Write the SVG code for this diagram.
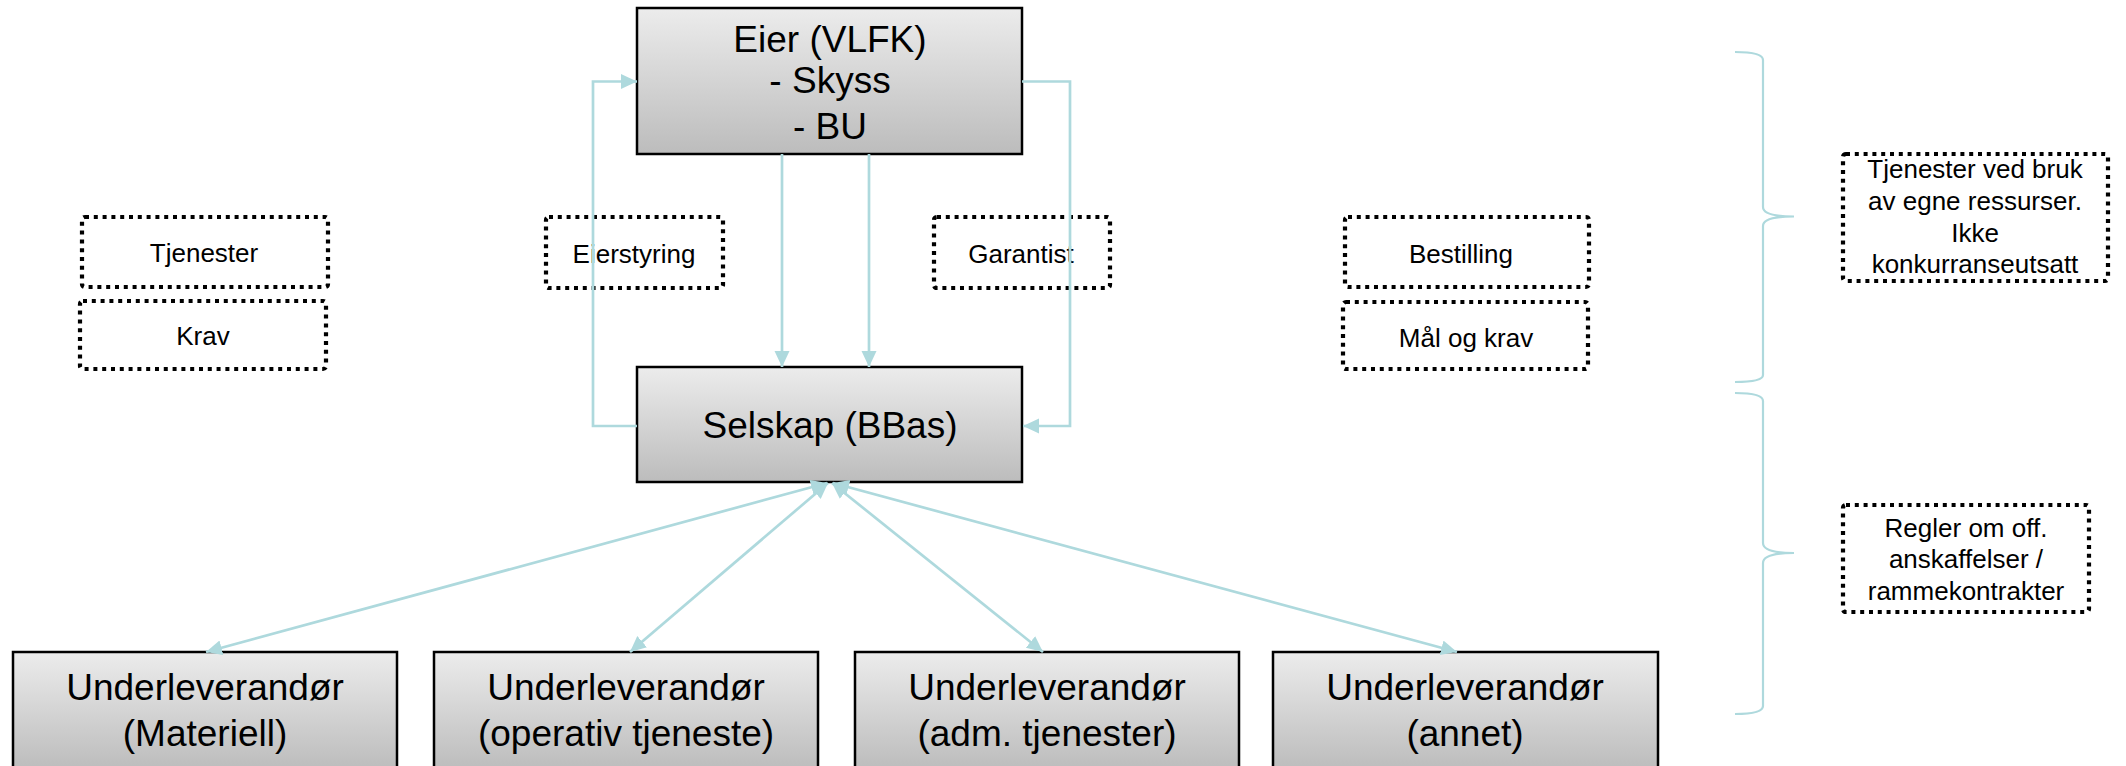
<svg xmlns="http://www.w3.org/2000/svg" width="2126" height="766" viewBox="0 0 2126 766">
<defs>
<linearGradient id="g" x1="0" y1="0" x2="0" y2="1">
<stop offset="0" stop-color="#ececec"/>
<stop offset="1" stop-color="#bcbcbc"/>
</linearGradient>
<marker id="ah" markerUnits="userSpaceOnUse" markerWidth="18" markerHeight="16" refX="16" refY="7.5" orient="auto-start-reverse" viewBox="0 0 18 16">
<path d="M0,0 L16,7.5 L0,15 z" fill="#aed9dd"/>
</marker>
<style>
.box{fill:url(#g);stroke:#000;stroke-width:2.5}
.dot{fill:none;stroke:#000;stroke-width:4.2;stroke-dasharray:4 4.8}
.t{font-family:"Liberation Sans",Arial,sans-serif;fill:#000;text-anchor:middle}
.big{font-size:37px}
.sm{font-size:26px}
.c{fill:none;stroke:#aed9dd;stroke-width:2.7}
.br{fill:none;stroke:#aed9dd;stroke-width:2.2}
</style>
</defs>
<rect width="2126" height="766" fill="#fff"/>

<g id="labels-left">
<g id="n-tjenester"><rect class="dot" x="82" y="217" width="246" height="70" rx="3"/><text class="t sm" x="204" y="262">Tjenester</text></g>
<g id="n-krav"><rect class="dot" x="80" y="301" width="246" height="68" rx="3"/><text class="t sm" x="203" y="345">Krav</text></g>
<g id="n-eierstyring"><rect class="dot" x="546" y="217" width="177" height="71" rx="3"/><text class="t sm" x="634" y="263">Eierstyring</text></g>
<g id="n-garantist"><rect class="dot" x="934" y="217" width="176" height="71" rx="3"/><text class="t sm" x="1021" y="263">Garantist</text></g>
<g id="n-bestilling"><rect class="dot" x="1345" y="217" width="244" height="70" rx="3"/><text class="t sm" x="1461" y="263">Bestilling</text></g>
<g id="n-maal"><rect class="dot" x="1343" y="302" width="245" height="67" rx="3"/><text class="t sm" x="1466" y="347">Mål og krav</text></g>
<g id="n-egne"><rect class="dot" x="1843" y="154" width="265" height="127" rx="3"/><text class="t sm" x="1975" y="178">Tjenester ved bruk</text><text class="t sm" x="1975" y="210">av egne ressurser.</text><text class="t sm" x="1975" y="242">Ikke</text><text class="t sm" x="1975" y="273">konkurranseutsatt</text></g>
<g id="n-regler"><rect class="dot" x="1843" y="505" width="246" height="107" rx="3"/><text class="t sm" x="1966" y="537">Regler om off.</text><text class="t sm" x="1966" y="568">anskaffelser /</text><text class="t sm" x="1966" y="600">rammekontrakter</text></g>
</g>

<g id="n-eier"><rect class="box" x="637" y="8" width="385" height="146"/><text class="t big" x="830" y="52">Eier (VLFK)</text><text class="t big" x="830" y="93">- Skyss</text><text class="t big" x="830" y="139">- BU</text></g>
<g id="n-selskap"><rect class="box" x="637" y="367" width="385" height="115"/><text class="t big" x="830" y="438">Selskap (BBas)</text></g>
<g id="n-u1"><rect class="box" x="13" y="652" width="384" height="118"/><text class="t big" x="205" y="700">Underleverandør</text><text class="t big" x="205" y="746">(Materiell)</text></g>
<g id="n-u2"><rect class="box" x="434" y="652" width="384" height="118"/><text class="t big" x="626" y="700">Underleverandør</text><text class="t big" x="626" y="746">(operativ tjeneste)</text></g>
<g id="n-u3"><rect class="box" x="855" y="652" width="384" height="118"/><text class="t big" x="1047" y="700">Underleverandør</text><text class="t big" x="1047" y="746">(adm. tjenester)</text></g>
<g id="n-u4"><rect class="box" x="1273" y="652" width="385" height="118"/><text class="t big" x="1465" y="700">Underleverandør</text><text class="t big" x="1465" y="746">(annet)</text></g>

<g id="connectors">
<line class="c" x1="782" y1="154" x2="782" y2="367" marker-end="url(#ah)"/>
<line class="c" x1="869" y1="154" x2="869" y2="367" marker-end="url(#ah)"/>
<polyline class="c" points="637,426 593,426 593,81.5 637,81.5" marker-end="url(#ah)"/>
<polyline class="c" points="1022,81.5 1070,81.5 1070,426 1023,426" marker-end="url(#ah)"/>
<line class="c" x1="827" y1="483" x2="206" y2="652" marker-start="url(#ah)" marker-end="url(#ah)"/>
<line class="c" x1="828" y1="483" x2="630" y2="652" marker-start="url(#ah)" marker-end="url(#ah)"/>
<line class="c" x1="832" y1="483" x2="1043" y2="652" marker-start="url(#ah)" marker-end="url(#ah)"/>
<line class="c" x1="833" y1="483" x2="1457" y2="652" marker-start="url(#ah)" marker-end="url(#ah)"/>
</g>

<g id="braces">
<path class="br" d="M1735,52 Q1763,52 1763,60 L1763,207 Q1763,216.5 1794,216.5 Q1763,216.5 1763,226 L1763,375 Q1763,382 1735,382"/>
<path class="br" d="M1735,393 Q1763,393 1763,401 L1763,543 Q1763,553 1794,553 Q1763,553 1763,563 L1763,706 Q1763,714 1735,714"/>
</g>
</svg>
